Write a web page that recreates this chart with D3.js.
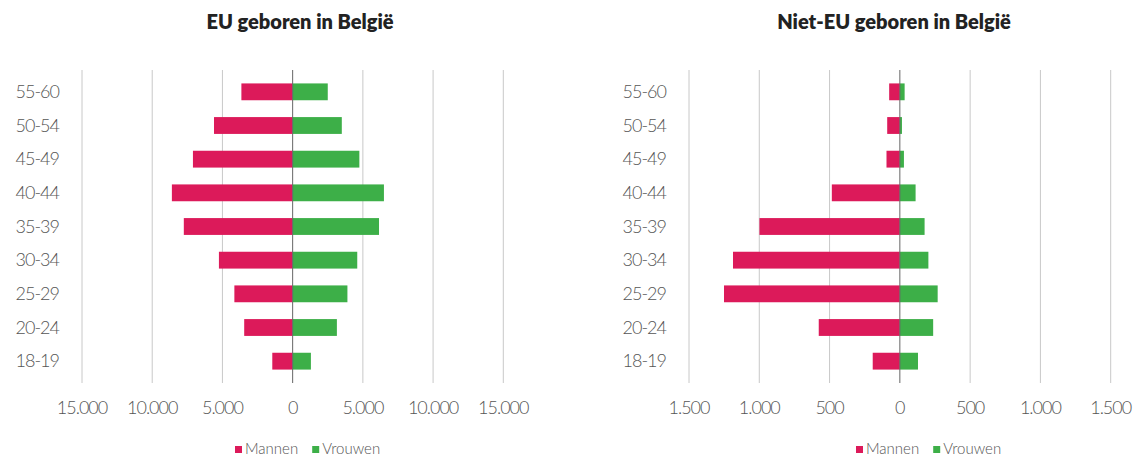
<!DOCTYPE html>
<html>
<head>
<meta charset="utf-8">
<script src="https://cdn.jsdelivr.net/npm/d3@7"></script>
<style>
  html, body { margin: 0; padding: 0; background: #fff; }
  svg { display: block; }
  .title { font-family: Lato, "Open Sans", sans-serif; font-weight: 800; font-size: 20px; fill: #222; }
  .lbl { font-family: Lato, "Open Sans", sans-serif; font-weight: 300; font-size: 18px; fill: #555; letter-spacing: -1px; }
  .leg { font-family: Lato, "Open Sans", sans-serif; font-weight: 300; font-size: 15px; fill: #555; }
</style>
</head>
<body>
<script>
const categories = ["55-60", "50-54", "45-49", "40-44", "35-39", "30-34", "25-29", "20-24", "18-19"];
const seriesNames = ["Mannen", "Vrouwen"];

// EU geboren in België
const euMannen  = [3650, 5600, 7100, 8600, 7750, 5250, 4150, 3450, 1450];
const euVrouwen = [2500, 3500, 4750, 6500, 6150, 4600, 3900, 3150, 1300];
const euTicks = [-15000, -10000, -5000, 0, 5000, 10000, 15000];

// Niet-EU geboren in België
const nietEuMannen  = [76, 90, 95, 484, 999, 1187, 1251, 577, 193];
const nietEuVrouwen = [34, 15, 29, 112, 176, 203, 269, 237, 129];
const nietEuTicks = [-1500, -1000, -500, 0, 500, 1000, 1500];

const titles = ["EU geboren in België", "Niet-EU geboren in België"];
const colors = { Mannen: "#DC1A5A", Vrouwen: "#3DAF48" };

const W = 1139, H = 457;
const svg = d3.select("body").append("svg").attr("width", W).attr("height", H);

const nl = d3.formatLocale({ decimal: ",", thousands: ".", grouping: [3], currency: ["€", ""] });
const fmt = v => nl.format(",")(Math.abs(v));

function panel(cfg) {
  const g = svg.append("g");
  const x = d3.scaleLinear().domain(cfg.domain).range(cfg.xr);
  const y = d3.scaleBand().domain(categories).range([75, 378]).paddingInner(0.5).paddingOuter(0.25);

  // title
  g.append("text").attr("class", "title")
    .attr("x", cfg.titleX).attr("y", 29).attr("text-anchor", "middle").text(cfg.title);

  // gridlines
  g.selectAll(".grid").data(cfg.ticks.filter(t => t !== 0)).join("line")
    .attr("x1", d => x(d)).attr("x2", d => x(d))
    .attr("y1", 70).attr("y2", 383)
    .attr("stroke", "#c8c8c8").attr("stroke-width", 1);

  // bars
  const rows = categories.map((c, i) => ({ c, m: cfg.m[i], v: cfg.v[i] }));
  g.selectAll(".bm").data(rows).join("rect")
    .attr("x", d => x(-d.m)).attr("width", d => x(0) - x(-d.m))
    .attr("y", d => y(d.c)).attr("height", y.bandwidth())
    .attr("fill", colors.Mannen);
  g.selectAll(".bv").data(rows).join("rect")
    .attr("x", x(0)).attr("width", d => x(d.v) - x(0))
    .attr("y", d => y(d.c)).attr("height", y.bandwidth())
    .attr("fill", colors.Vrouwen);

  // zero line
  g.append("line").attr("x1", x(0)).attr("x2", x(0)).attr("y1", 70).attr("y2", 383)
    .attr("stroke", "#666").attr("stroke-width", 1);

  // category labels
  g.selectAll(".cl").data(categories).join("text").attr("class", "lbl")
    .attr("x", cfg.labelX).attr("y", d => y(d) + y.bandwidth() / 2)
    .attr("dy", "0.35em").attr("text-anchor", "end").text(d => d);

  // tick labels
  g.selectAll(".tl").data(cfg.ticks).join("text").attr("class", "lbl")
    .attr("x", d => x(d)).attr("y", 408).attr("dy", "0.35em")
    .attr("text-anchor", "middle").text(d => fmt(d));

  // legend
  const lg = g.append("g").attr("transform", `translate(${cfg.legX},449)`);
  let off = 0;
  seriesNames.forEach((s, i) => {
    lg.append("rect").attr("x", off).attr("y", -3).attr("width", 7).attr("height", 7).attr("fill", colors[s]);
    const t = lg.append("text").attr("class", "leg").attr("x", off + 10).attr("y", 0).attr("dy", "0.35em").text(s);
    off += 10 + t.node().getComputedTextLength() + 14;
  });
}

panel({ title: titles[0], titleX: 300, domain: [-15000, 15000], xr: [82, 503.3], ticks: euTicks,
        m: euMannen, v: euVrouwen, labelX: 59, legX: 235 });
panel({ title: titles[1], titleX: 894, domain: [-1500, 1500], xr: [689, 1110.7], ticks: nietEuTicks,
        m: nietEuMannen, v: nietEuVrouwen, labelX: 666, legX: 856 });
</script>
</body>
</html>
